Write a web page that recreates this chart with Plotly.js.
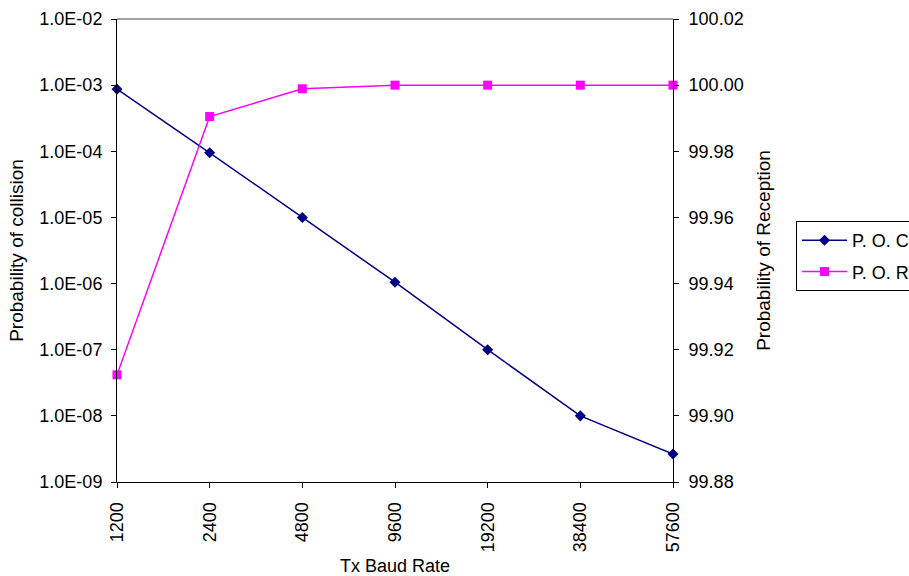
<!DOCTYPE html>
<html>
<head>
<meta charset="utf-8">
<script src="https://cdn.plot.ly/plotly-3.0.1.min.js"></script>
<style>
  html, body { margin: 0; padding: 0; background: #fff; }
  #chart { width: 909px; height: 576px; }
</style>
</head>
<body>
<div id="chart"></div>
<script>
// Transmit baud rates (evenly spaced categories)
const baudRates = ['1200', '2400', '4800', '9600', '19200', '38400', '57600'];

// Probability of collision (log scale, left axis)
const probCollision = [8.7e-4, 9.5e-5, 1.0e-5, 1.05e-6, 1.0e-7, 1.0e-8, 2.65e-9];

// Probability of reception in percent (right axis)
const probReception = [99.9124, 99.9905, 99.9989, 100.0, 100.0, 100.0, 100.0];

// Left axis decade ticks and their labels
const collisionTickVals = [1e-9, 1e-8, 1e-7, 1e-6, 1e-5, 1e-4, 1e-3, 1e-2];
const collisionTickText = ['1.0E-09', '1.0E-08', '1.0E-07', '1.0E-06', '1.0E-05', '1.0E-04', '1.0E-03', '1.0E-02'];

const FONT = 'Liberation Sans, Arial, sans-serif';
const FS = 18;      // tick labels, legend, x title
const FS_Y = 19;    // vertical axis titles

const traces = [
  {
    x: baudRates, y: probCollision, name: 'P. O. C',
    type: 'scatter', mode: 'lines+markers', yaxis: 'y',
    line: { color: '#000080', width: 1.5 },
    marker: { symbol: 'diamond', size: 8.5, color: '#000080' },
    cliponaxis: false, legendgroup: 'a'
  },
  {
    x: baudRates, y: probReception, name: 'P. O. R',
    type: 'scatter', mode: 'lines+markers', yaxis: 'y2',
    line: { color: '#FF00FF', width: 1.5 },
    marker: { symbol: 'square', size: 9, color: '#FF00FF' },
    cliponaxis: false, legendgroup: 'b'
  }
];

const layout = {
  width: 909, height: 576,
  margin: { l: 117, r: 236, t: 19, b: 94, autoexpand: false },
  paper_bgcolor: '#fff', plot_bgcolor: '#fff',
  font: { family: FONT, size: FS, color: '#000' },
  showlegend: true,
  legend: {
    xref: 'container', yref: 'container',
    x: 796 / 909, y: (576 - 221) / 576, xanchor: 'left', yanchor: 'top',
    bordercolor: '#000', borderwidth: 1, bgcolor: '#fff',
    font: { family: FONT, size: FS, color: '#000' },
    itemwidth: 45, tracegroupgap: 5
  },
  xaxis: {
    type: 'category', range: [0, 6], automargin: false,
    showline: true, linecolor: '#000', linewidth: 1,
    ticks: 'outside', ticklen: 5, tickcolor: '#000',
    tickangle: -90, ticklabelstandoff: 7, showgrid: false, zeroline: false,
    tickfont: { family: FONT, size: FS },
    title: { text: 'Tx Baud Rate', font: { family: FONT, size: FS }, standoff: 12 }
  },
  yaxis: {
    type: 'log', range: [-9, -2], automargin: false,
    tickvals: collisionTickVals, ticktext: collisionTickText,
    showline: true, linecolor: '#000', linewidth: 1,
    ticks: 'outside', ticklen: 5, tickcolor: '#000',
    ticklabelstandoff: 5, showgrid: false, zeroline: false,
    tickfont: { family: FONT, size: FS },
    title: { text: 'Probability of collision', font: { family: FONT, size: FS_Y }, standoff: 10 }
  },
  yaxis2: {
    overlaying: 'y', side: 'right', automargin: false,
    range: [99.88, 100.02], dtick: 0.02, tick0: 99.88, tickformat: '.2f',
    showline: true, linecolor: '#000', linewidth: 1,
    ticks: 'outside', ticklen: 5, tickcolor: '#000',
    ticklabelstandoff: 6, showgrid: false, zeroline: false,
    tickfont: { family: FONT, size: FS },
    title: { text: 'Probability of Reception', font: { family: FONT, size: FS_Y }, standoff: 14 }
  },
  // inner half of the right axis' crossing ticks
  yaxis3: {
    overlaying: 'y', side: 'right', anchor: 'x', automargin: false,
    range: [99.88, 100.02], dtick: 0.02, tick0: 99.88,
    ticks: 'inside', ticklen: 5, tickcolor: '#000',
    showticklabels: false, showline: false, showgrid: false, zeroline: false
  },
  shapes: [
    // grey top edge of the plot area
    { type: 'line', xref: 'paper', yref: 'paper', x0: 0, x1: 1, y0: 1, y1: 1,
      line: { color: '#808080', width: 1.5 } }
  ]
};

Plotly.newPlot('chart', traces, layout, { displayModeBar: false, staticPlot: true });
</script>
</body>
</html>
